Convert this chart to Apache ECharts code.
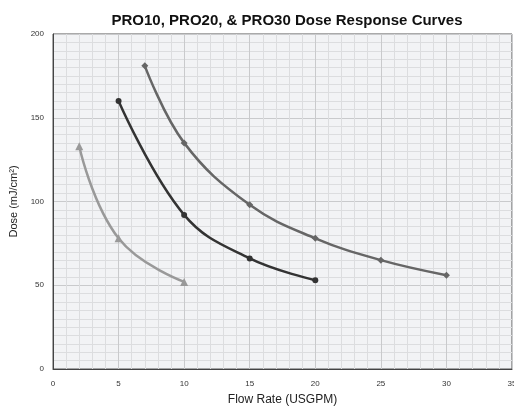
<!DOCTYPE html>
<html>
<head>
<meta charset="utf-8">
<script src="https://cdn.jsdelivr.net/npm/echarts@6/dist/echarts.min.js"></script>
<style>
html, body { margin: 0; padding: 0; background: #fff; }
#chart { width: 514px; height: 406px; }
</style>
</head>
<body>
<div id="chart"></div>
<script>
// 数据
const pro10 = [[2, 133], [5, 78], [10, 52]]
const pro20 = [[5, 160], [10, 92], [15, 66], [20, 53]]
const pro30 = [[7, 181], [10, 135], [15, 98], [20, 78], [25, 65], [30, 56]]

const font = 'Liberation Sans, Arial, sans-serif'

let myChart = echarts.init(document.getElementById('chart'))

let option = {
    animation: false,
    title: {
        text: 'PRO10, PRO20, & PRO30 Dose Response Curves',
        left: 282,
        textAlign: 'center',
        top: 8,
        textStyle: { fontFamily: font, fontSize: 15, fontWeight: 'bold', color: '#111' }
    },
    grid: {
        left: 53, right: 2, top: 34, bottom: 37,
        outerBoundsMode: 'none',
        show: true,
        backgroundColor: '#f2f3f5',
        borderColor: '#555',
        borderWidth: 1
    },
    xAxis: {
        type: 'value',
        min: 0, max: 35, interval: 5,
        name: 'Flow Rate (USGPM)',
        nameLocation: 'middle',
        nameGap: 25,
        nameTextStyle: { fontFamily: font, fontSize: 12, color: '#222' },
        axisLine: { lineStyle: { color: '#444' } },
        axisTick: { show: false },
        axisLabel: { fontFamily: font, fontSize: 8, color: '#333', margin: 11 },
        splitLine: { lineStyle: { color: '#c9cacc', width: 1 } },
        minorTick: { show: false, splitNumber: 5 },
        minorSplitLine: { show: true, lineStyle: { color: '#dcdddf', width: 1 } }
    },
    yAxis: {
        type: 'value',
        min: 0, max: 200, interval: 50,
        name: 'Dose (mJ/cm²)',
        nameLocation: 'middle',
        nameGap: 25,
        nameTextStyle: { fontFamily: font, fontSize: 11, color: '#222' },
        axisLine: { show: true, lineStyle: { color: '#444' } },
        axisTick: { show: false },
        axisLabel: { fontFamily: font, fontSize: 8, color: '#333', margin: 9 },
        splitLine: { lineStyle: { color: '#c9cacc', width: 1 } },
        minorTick: { show: false, splitNumber: 10 },
        minorSplitLine: { show: true, lineStyle: { color: '#dcdddf', width: 1 } }
    },
    series: [
        {
            name: 'PRO10',
            type: 'line',
            smooth: 0.45,
            data: pro10,
            symbol: 'triangle',
            symbolSize: 8,
            lineStyle: { width: 2.5, color: '#999' },
            itemStyle: { color: '#999' }
        },
        {
            name: 'PRO20',
            type: 'line',
            smooth: 0.4,
            data: pro20,
            symbol: 'circle',
            symbolSize: 6,
            lineStyle: { width: 2.5, color: '#333' },
            itemStyle: { color: '#333' }
        },
        {
            name: 'PRO30',
            type: 'line',
            smooth: 0.4,
            data: pro30,
            symbol: 'diamond',
            symbolSize: 7,
            lineStyle: { width: 2.5, color: '#666' },
            itemStyle: { color: '#666' }
        }
    ]
}

myChart.setOption(option)
</script>
</body>
</html>
